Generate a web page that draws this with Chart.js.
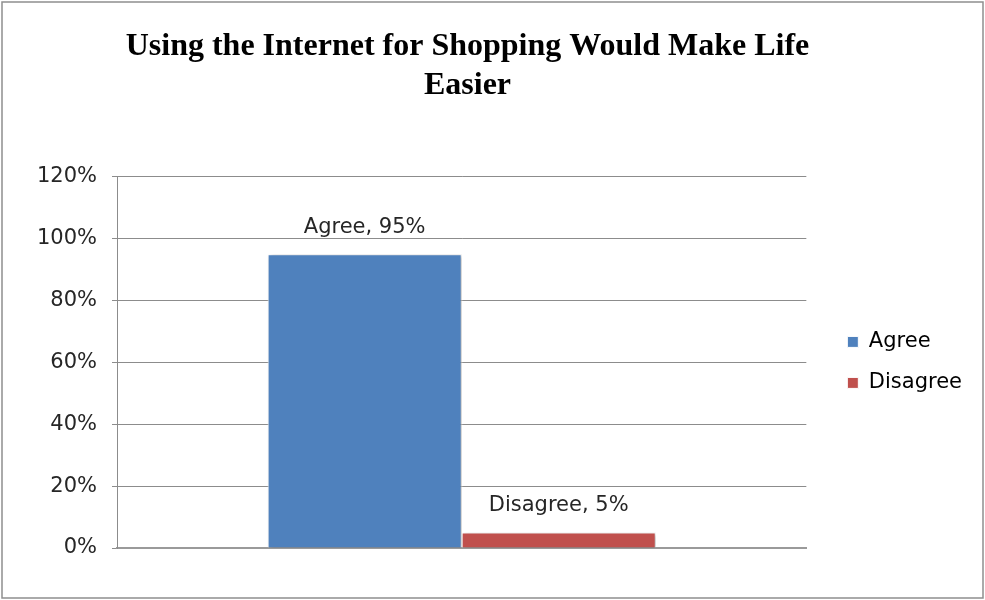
<!DOCTYPE html>
<html>
<head>
<meta charset="utf-8">
<script src="https://cdn.jsdelivr.net/npm/chart.js@4/dist/chart.umd.min.js"></script>
<style>
  html, body { margin: 0; padding: 0; background: #ffffff; }
  #wrap { width: 985px; height: 600px; position: relative; }
</style>
</head>
<body>
<div id="wrap"><canvas id="chart" width="985" height="600"></canvas></div>
<script>
// Survey answers: one category, two response series (shares of respondents)
const categories = [''];
const seriesNames = ['Agree', 'Disagree'];
const agreeValues = [0.95];
const disagreeValues = [0.05];
const seriesColors = ['#4F81BD', '#C0504D'];
const yTickValues = [0, 0.2, 0.4, 0.6, 0.8, 1.0, 1.2];
const titleLines = ['Using the Internet for Shopping Would Make Life', 'Easier'];

const labelFont = '"DejaVu Sans", Verdana, sans-serif';

// White background and thin grey frame around the whole chart
const framePlugin = {
  id: 'frame',
  beforeDraw(chart) {
    const ctx = chart.ctx;
    ctx.save();
    ctx.fillStyle = '#ffffff';
    ctx.fillRect(0, 0, chart.width, chart.height);
    ctx.strokeStyle = '#8e8e8e';
    ctx.lineWidth = 1.5;
    ctx.strokeRect(2, 2, chart.width - 4, chart.height - 4);
    ctx.restore();
  }
};

// Soft drop shadow under the bars
const barShadowPlugin = {
  id: 'barShadow',
  beforeDatasetsDraw(chart) {
    const ctx = chart.ctx;
    ctx.save();
    ctx.shadowColor = 'rgba(0,0,0,0.28)';
    ctx.shadowBlur = 4;
    ctx.shadowOffsetX = 2;
    ctx.shadowOffsetY = 1;
  },
  afterDatasetsDraw(chart) {
    chart.ctx.restore();
  }
};

// "Series, value" labels above each bar
const valueLabelPlugin = {
  id: 'valueLabels',
  afterDatasetsDraw(chart) {
    const ctx = chart.ctx;
    ctx.save();
    ctx.font = '21px ' + labelFont;
    ctx.fillStyle = '#262626';
    ctx.textAlign = 'center';
    ctx.textBaseline = 'middle';
    chart.data.datasets.forEach((ds, di) => {
      const meta = chart.getDatasetMeta(di);
      meta.data.forEach((bar, i) => {
        const v = ds.data[i];
        const text = ds.label + ', ' + Math.round(v * 100) + '%';
        ctx.fillText(text, bar.x, bar.y - 27);
      });
    });
    ctx.restore();
  }
};

new Chart(document.getElementById('chart'), {
  type: 'bar',
  data: {
    labels: categories,
    datasets: [
      {
        label: seriesNames[0],
        data: agreeValues,
        backgroundColor: seriesColors[0],
        borderColor: '#ffffff',
        borderWidth: 1,
        categoryPercentage: 0.563,
        barPercentage: 1.0
      },
      {
        label: seriesNames[1],
        data: disagreeValues,
        backgroundColor: seriesColors[1],
        borderColor: '#ffffff',
        borderWidth: 1,
        categoryPercentage: 0.563,
        barPercentage: 1.0
      }
    ]
  },
  options: {
    responsive: false,
    animation: false,
    // the negative left inset shifts the centred title slightly left of the canvas centre
    layout: { padding: { left: -37, right: 13, top: 0, bottom: 44 } },
    plugins: {
      title: {
        display: true,
        fullSize: true,
        text: titleLines,
        color: '#000000',
        font: { family: '"Liberation Serif", "Times New Roman", serif', size: 32, weight: 'bold', lineHeight: 1.2 },
        padding: { top: 28, bottom: 72 }
      },
      legend: {
        display: true,
        fullSize: false,
        position: 'right',
        labels: {
          boxWidth: 11,
          boxHeight: 11,
          padding: 20,
          color: '#000000',
          font: { family: labelFont, size: 21 }
        }
      },
      tooltip: { enabled: false }
    },
    scales: {
      x: {
        grid: { display: false },
        ticks: { display: false },
        border: { display: true, color: '#9a9a9a', width: 2 }
      },
      y: {
        min: 0,
        max: 1.2,
        afterFit(scale) { scale.width = 154; },
        afterBuildTicks(scale) { scale.ticks = yTickValues.map(v => ({ value: v })); },
        ticks: {
          padding: 15,
          color: '#262626',
          font: { family: labelFont, size: 21 },
          callback: v => Math.round(v * 100) + '%'
        },
        grid: { color: '#8c8c8c', lineWidth: 1, tickLength: 5 },
        border: { display: true, color: '#8c8c8c', width: 1 }
      },
      // empty spacer between the plot and the legend
      gap: {
        type: 'linear',
        position: 'right',
        display: true,
        grid: { display: false },
        ticks: { display: false },
        border: { display: false },
        afterFit(scale) { scale.width = 21; }
      }
    }
  },
  plugins: [framePlugin, barShadowPlugin, valueLabelPlugin]
});
</script>
</body>
</html>
